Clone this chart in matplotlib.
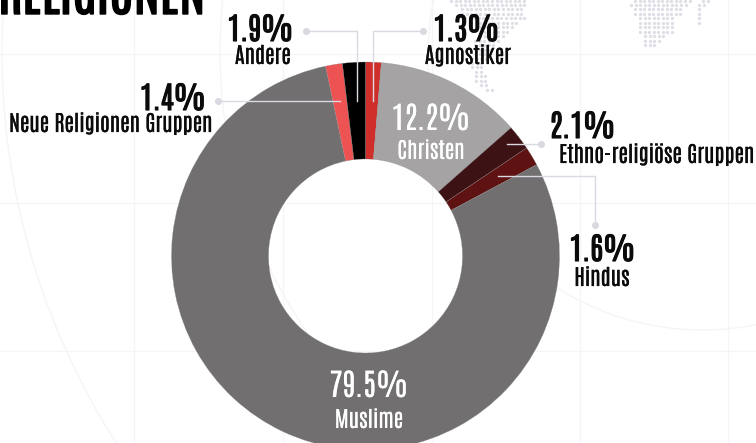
import matplotlib
matplotlib.use("Agg")
import matplotlib.pyplot as plt
import matplotlib.patheffects as pe
from matplotlib.patches import Circle

FONT = ['Antonio', 'Oswald', 'Liberation Sans Narrow', 'DejaVu Sans']

# Religious affiliation shares, clockwise from twelve o'clock
categories = ['Agnostiker', 'Christen', 'Ethno-religiöse Gruppen', 'Hindus',
              'Muslime', 'Neue Religionen Gruppen', 'Andere']
shares = [1.3, 12.2, 2.1, 1.6, 79.5, 1.4, 1.9]
slice_colors = ['#cf2e2a', '#a5a3a4', '#3c1214', '#5f1212', '#716f70', '#ed5353', '#000000']

# Backdrop grid and globe outlines
grid_x = [134, 283, 432, 580, 728]
grid_y = [54, 203, 351]
globe_circles = [(703, 55, 275), (715, 52, 495), (728, 52, 726)]

# Dotted world map fragments: row y, first x, last x
map_rows = [
    (0.7, 635, 690), (4.5, 631, 690), (9, 635, 685), (13.5, 635, 681), (18, 640, 676),
    (22.5, 640, 672), (27, 640, 672), (31.5, 640, 672), (36, 645, 667), (40.5, 645, 663),
    (45, 645, 658),
    (0.7, 703, 708), (4.5, 699, 708), (9, 699, 703), (13.5, 699, 703), (18, 699, 703), (22.5, 699, 703),
    (0.7, 451, 525), (4.5, 456, 525), (9, 462, 525), (13.5, 462, 525), (18, 465, 525),
    (22.5, 480, 517), (27, 480, 513), (31.5, 480, 510), (36, 480, 505), (40.5, 475, 500),
    (45, 475, 496), (49.5, 475, 490), (54, 475, 488), (58.5, 472, 486), (63, 472, 485),
    (67, 472, 485), (71.5, 476, 485), (76, 476, 488), (80.5, 476, 488),
    (85, 481, 488), (90, 487, 492),
]

fig = plt.figure(figsize=(7.56, 4.43), dpi=100)
ax = fig.add_axes([0, 0, 1, 1])

ax.pie(shares, colors=slice_colors, startangle=-90, counterclock=True,
       radius=194, center=(365.5, 256),
       wedgeprops=dict(width=97, linewidth=0.2, edgecolor='#8a8a8a'), frame=False)
ax.set_xlim(0, 756)
ax.set_ylim(443, 0)
ax.set_aspect('auto')
ax.axis('off')

GRID = '#f5f5f7'
for x in grid_x:
    ax.plot([x, x], [0, 443], color=GRID, lw=1, zorder=0)
for y in grid_y:
    ax.plot([0, 756], [y, y], color=GRID, lw=1, zorder=0)
for cx, cy, r in globe_circles:
    ax.add_patch(Circle((cx, cy), r, fill=False, ec=GRID, lw=1, zorder=0))

DOT = '#dfdee6'
for y, x0, x1 in map_rows:
    xs = []
    x = x0
    while x <= x1:
        xs.append(x)
        x += 4.55
    ax.scatter(xs, [y] * len(xs), s=5.5, color=DOT, linewidths=0, zorder=0.5)

def heavy(color, w):
    return [pe.withStroke(linewidth=w, foreground=color)]

ax.text(-2, 14, 'RELIGIONEN', family=FONT, fontsize=38, color='#000', ha='left', va='baseline',
        zorder=6, path_effects=heavy('#000', 1.0))

# Leader lines with a round end dot
LEAD = '#dad9e1'
leaders = [
    ([306, 357, 357], [31, 31, 101]),
    ([423, 373, 373], [31, 31, 101]),
    ([218, 340], [101, 101]),
    ([541, 507], [144, 144]),
    ([595, 595, 498], [225, 176, 176]),
]
for xs, ys in leaders:
    ax.plot(xs, ys, color=LEAD, lw=1, zorder=4, solid_joinstyle='miter')
    ax.scatter(xs[0], ys[0], s=26, color=LEAD, linewidths=0, zorder=4)

PCT = 22
NAME = 15.8
def label(i, px, py, nx, ny, color='#0b0b0b', ha='center'):
    w = 0.8 if color != '#ffffff' else 0.01
    ax.text(px, py, f'{shares[i]}%', family=FONT, fontsize=PCT, color=color, ha=ha, va='baseline',
            zorder=5, path_effects=heavy(color, w))
    ax.text(nx, ny, categories[i], family=FONT, fontsize=NAME, color=color, ha=ha, va='baseline',
            zorder=5, path_effects=heavy(color, w * 0.2))

label(6, 260.5, 41, 263, 64)
label(0, 466.5, 41, 468, 64)
label(5, 173, 110, 111, 132)
label(2, 582.5, 138, 657, 163)
label(3, 602.5, 261, 602, 286)
label(1, 431, 130, 431, 159, color='#ffffff')
label(4, 369, 397, 369, 428, color='#ffffff')

fig.savefig('out.png', dpi=100)
